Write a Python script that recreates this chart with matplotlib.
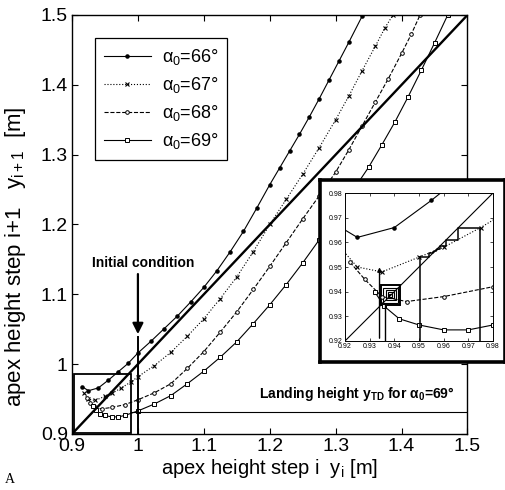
import numpy as np
import matplotlib.pyplot as plt
from matplotlib.patches import Rectangle

plt.rcParams['font.family'] = ['Liberation Sans', 'DejaVu Sans']
plt.rcParams['mathtext.fontset'] = 'custom'
plt.rcParams['mathtext.rm'] = 'Liberation Sans'
plt.rcParams['mathtext.it'] = 'Liberation Sans'
plt.rcParams['mathtext.bf'] = 'Liberation Sans:bold'

# return maps y_{i+1}(y_i) for four angles of attack
angles = [66, 67, 68, 69]

y66_i = [0.915, 0.925, 0.94, 0.955, 0.97, 0.985, 1.0, 1.02, 1.04, 1.06, 1.08, 1.1, 1.12,
         1.14, 1.16, 1.18, 1.2, 1.215, 1.23, 1.245, 1.26, 1.275, 1.29, 1.305, 1.32, 1.34]
y66_n = [0.968, 0.962, 0.966, 0.977, 0.989, 1.001, 1.016, 1.033, 1.051, 1.069, 1.089, 1.110, 1.134,
         1.161, 1.190, 1.223, 1.257, 1.281, 1.305, 1.329, 1.354, 1.380, 1.407, 1.434, 1.461, 1.498]

y67_i = [0.918, 0.925, 0.935, 0.95, 0.96, 0.975, 0.99, 1.0, 1.025, 1.05, 1.075, 1.1, 1.125,
         1.15, 1.175, 1.2, 1.225, 1.25, 1.275, 1.3, 1.32, 1.34, 1.36, 1.375, 1.387]
y67_n = [0.958, 0.950, 0.948, 0.954, 0.958, 0.966, 0.975, 0.982, 0.998, 1.017, 1.040, 1.065, 1.094,
         1.125, 1.161, 1.200, 1.236, 1.272, 1.310, 1.350, 1.384, 1.420, 1.455, 1.482, 1.500]

y68_i = [0.922, 0.928, 0.935, 0.945, 0.96, 0.98, 1.0, 1.025, 1.05, 1.075, 1.1, 1.125, 1.15,
         1.175, 1.2, 1.225, 1.25, 1.275, 1.3, 1.32, 1.34, 1.36, 1.38, 1.4, 1.415, 1.428]
y68_n = [0.952, 0.945, 0.938, 0.936, 0.938, 0.942, 0.949, 0.959, 0.972, 0.994, 1.018, 1.046, 1.075,
         1.107, 1.140, 1.174, 1.208, 1.241, 1.275, 1.307, 1.341, 1.375, 1.409, 1.445, 1.473, 1.500]

y69_i = [0.932, 0.936, 0.942, 0.95, 0.96, 0.97, 0.98, 1.0, 1.025, 1.05, 1.075, 1.1, 1.125, 1.15,
         1.175, 1.2, 1.225, 1.25, 1.275, 1.3, 1.325, 1.35, 1.37, 1.39, 1.41, 1.43, 1.45, 1.47]
y69_n = [0.940, 0.934, 0.929, 0.9265, 0.9245, 0.9245, 0.9265, 0.933, 0.943, 0.955, 0.972, 0.990,
         1.010, 1.032, 1.058, 1.085, 1.114, 1.145, 1.178, 1.213, 1.247, 1.282, 1.314, 1.347,
         1.383, 1.421, 1.460, 1.500]

curves = [(y66_i, y66_n), (y67_i, y67_n), (y68_i, y68_n), (y69_i, y69_n)]

landing_height = 0.9315
initial_y = 1.0
zoom_box = (0.903, 0.901, 0.99, 0.986)

# cobweb details shown in the inset
cobweb_starts = [0.9747, 0.9504]   # iterated on the 67 deg map
cobweb_steps = 7
inset_arrow_x = 0.934
inset_arrow_top = 0.951
spiral_center = 0.9385
spiral_half = [0.004, 0.003, 0.002, 0.0012, 0.0006]
spiral_start_x = 0.9362

ticks = [0.9, 1.0, 1.1, 1.2, 1.3, 1.4, 1.5]
tick_labels = ['0.9', '1', '1.1', '1.2', '1.3', '1.4', '1.5']
inset_ticks = [0.92, 0.93, 0.94, 0.95, 0.96, 0.97, 0.98]

styles = [dict(ls='-', marker='.', ms=4.5, mfc='k', mec='k'),
          dict(ls=':', marker='x', ms=3.5, mew=0.8),
          dict(ls='--', marker='o', ms=2.6, mfc='white', mew=0.7),
          dict(ls='-', marker='s', ms=2.4, mfc='white', mew=0.7)]

fig = plt.figure(figsize=(5.06, 4.90), dpi=100)
ax = fig.add_axes([0.1423, 0.1143, 0.7816, 0.8551])

for (xi, yn), a, st in zip(curves, angles, styles):
    ax.plot(xi, yn, color='k', lw=0.8, label=r'$\alpha_0$=%d°' % a, **st)

ax.plot([0.9, 1.5], [0.9, 1.5], color='k', lw=1.7)
ax.plot([zoom_box[2], 1.5], [landing_height, landing_height], color='k', lw=0.8)
ax.plot([initial_y, initial_y], [0.9, 1.039], color='k', lw=1.4)
ax.add_patch(Rectangle((zoom_box[0], zoom_box[1]), zoom_box[2] - zoom_box[0],
                       zoom_box[3] - zoom_box[1], fill=False, lw=1.3, ec='k'))

ax.annotate('', xy=(initial_y, 1.039), xytext=(initial_y, 1.133),
            arrowprops=dict(arrowstyle='-|>', color='k', lw=1.6, mutation_scale=16))
ax.text(1.008, 1.145, 'Initial condition', ha='center', va='center',
        fontsize=10, fontweight='bold')
ax.text(1.481, 0.951, r'Landing height $\mathbf{y_{TD}}$ for $\mathbf{\alpha_0}$=69°',
        ha='right', va='baseline', fontsize=10, fontweight='bold')

ax.set_xlim(0.9, 1.5)
ax.set_ylim(0.9, 1.5)
ax.set_xticks(ticks)
ax.set_xticklabels(tick_labels)
ax.set_yticks(ticks)
ax.set_yticklabels(tick_labels)
ax.tick_params(direction='in', top=True, right=True, length=4, labelsize=14, pad=3)
for s in ax.spines.values():
    s.set_linewidth(1.0)
ax.set_xlabel(r'apex height step i  $\mathregular{y_i}$ [m]', fontsize=14.5)
ax.set_ylabel(r'apex height step i+1   $\mathregular{y_{i+1}}$  [m]', fontsize=16)
ax.xaxis.set_label_coords(0.5, -0.055)
ax.yaxis.set_label_coords(-0.11, 0.4225)

leg = ax.legend(loc='upper left', bbox_to_anchor=(0.058, 0.945), borderaxespad=0,
                fontsize=13, handlelength=2.6, labelspacing=0.45, fancybox=False,
                edgecolor='k', framealpha=1, borderpad=0.5, handletextpad=0.6)
leg.get_frame().set_linewidth(0.9)

# inset: outer frame and zoomed axes
frame = fig.add_axes([0.6324, 0.2612, 0.3656, 0.3714], zorder=5)
frame.set_xticks([])
frame.set_yticks([])
for s in frame.spines.values():
    s.set_linewidth(2.6)

ins = fig.add_axes([0.6818, 0.3041, 0.2925, 0.3020], zorder=6)
for (xi, yn), st in zip(curves, styles):
    ins.plot(xi, yn, color='k', lw=0.8, **st)
ins.plot([0.92, 0.98], [0.92, 0.98], color='k', lw=0.8)

f67 = lambda v: np.interp(v, y67_i, y67_n)
for x0 in cobweb_starts:
    px, py = [x0, x0], [0.92, f67(x0)]
    x = x0
    for _ in range(cobweb_steps):
        y = f67(x)
        px += [y, y]
        py += [y, f67(y)]
        x = y
    ins.plot(px, py, color='k', lw=1.1)

ins.annotate('', xy=(inset_arrow_x, inset_arrow_top), xytext=(inset_arrow_x, 0.92),
             arrowprops=dict(arrowstyle='-|>', color='k', lw=1.0, mutation_scale=6))
ins.plot([spiral_start_x, spiral_start_x], [0.92, spiral_center - spiral_half[0]],
         color='k', lw=1.0)
for h in spiral_half:
    ins.add_patch(Rectangle((spiral_center - h, spiral_center - h), 2 * h, 2 * h,
                            fill=False, lw=1.4 if h == spiral_half[0] else 0.8, ec='k'))

ins.set_xlim(0.92, 0.98)
ins.set_ylim(0.92, 0.98)
ins.set_xticks(inset_ticks)
ins.set_yticks(inset_ticks)
ins.set_xticklabels(['%.2f' % t for t in inset_ticks])
ins.set_yticklabels(['%.2f' % t for t in inset_ticks])
ins.tick_params(direction='in', top=True, right=True, length=2, labelsize=5, pad=1.5, width=0.5)
for s in ins.spines.values():
    s.set_linewidth(0.7)

fig.text(0.01, 0.015, 'A', family='Liberation Serif', fontsize=10)

fig.savefig('out.png', dpi=100)
